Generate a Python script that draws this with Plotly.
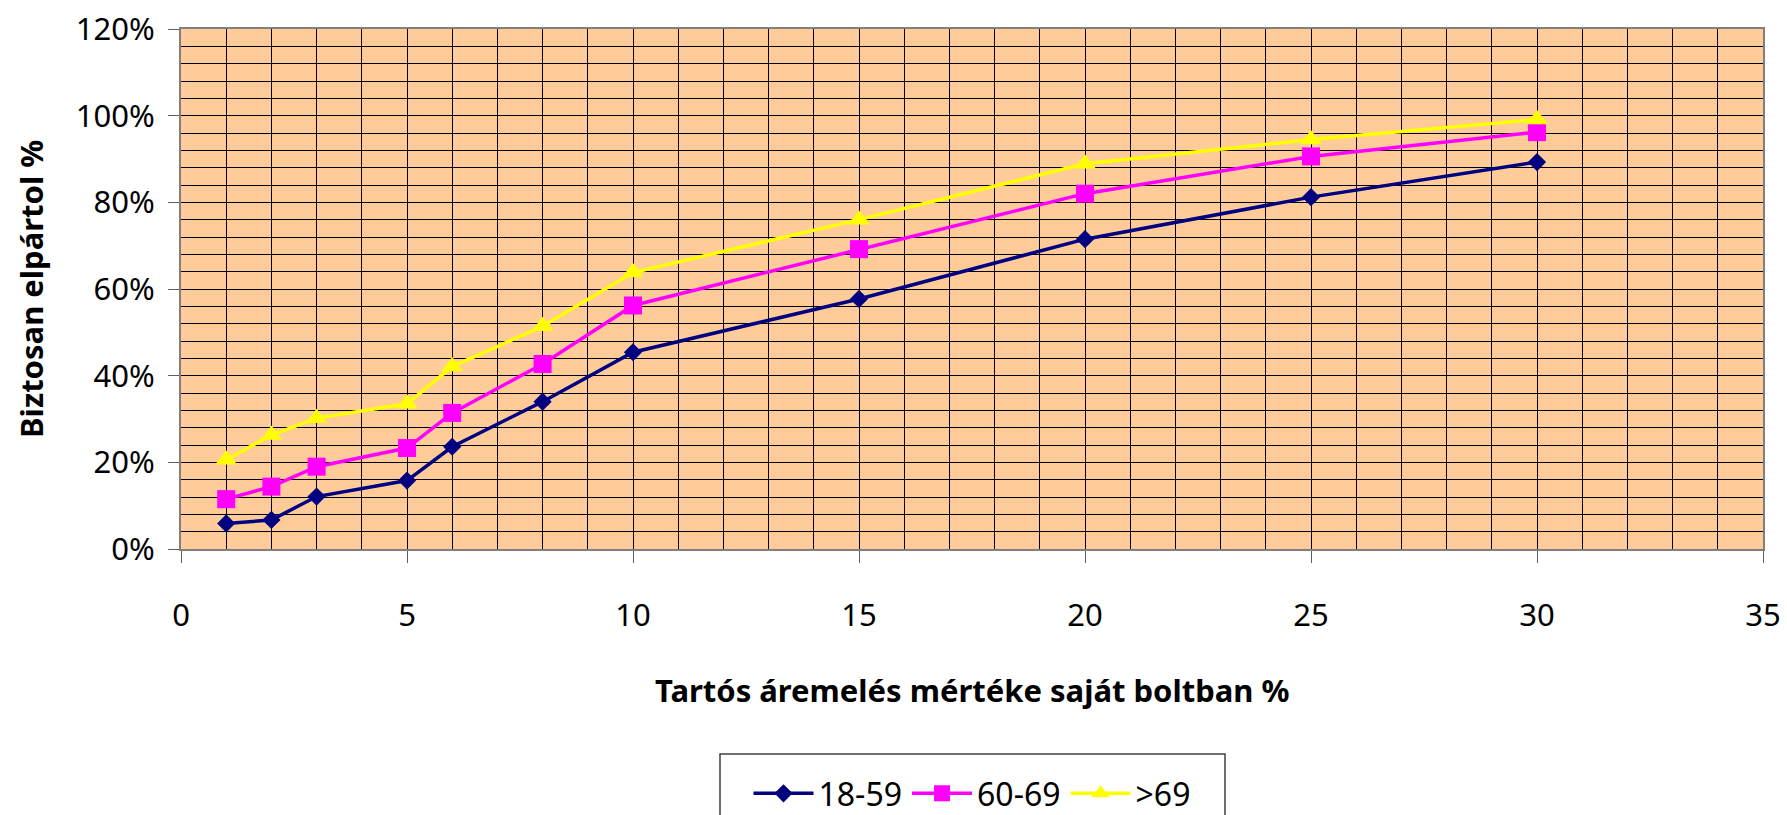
import plotly.graph_objects as go

# Price increase in own shop (%) and share who would surely leave, by age group
price_rise = [1, 2, 3, 5, 6, 8, 10, 15, 20, 25, 30]
age_18_59 = [0.059, 0.067, 0.121, 0.158, 0.236, 0.340, 0.454, 0.577, 0.715, 0.812, 0.893]
age_60_69 = [0.115, 0.144, 0.190, 0.233, 0.314, 0.427, 0.562, 0.692, 0.820, 0.906, 0.962]
age_70_plus = [0.206, 0.263, 0.302, 0.335, 0.421, 0.514, 0.638, 0.760, 0.889, 0.945, 0.991]
series_names = ["18-59", "60-69", ">69"]

FONT = "Comic Sans MS, Noto Sans, sans-serif"
W, H = 1787, 815
L, R, T, B = 181, 24, 29, 266

fig = go.Figure()
styles = [
    ("#000080", "diamond", 14),
    ("#FF00FF", "square", 18),
    ("#FFFF00", "triangle-up", 19),
]
for name, ys, (col, sym, sz) in zip(series_names, [age_18_59, age_60_69, age_70_plus], styles):
    fig.add_trace(go.Scatter(
        x=price_rise, y=ys, name=name, mode="lines+markers",
        line=dict(color=col, width=3.5),
        marker=dict(symbol=sym, size=sz, color=col, line=dict(width=0)),
    ))

plot_w = W - L - R
plot_h = H - T - B

def px_x(px):
    return (px - L) / plot_w

def px_y(py):
    return (H - B - py) / plot_h

fig.update_layout(
    width=W, height=H,
    margin=dict(l=L, r=R, t=T, b=B, autoexpand=False),
    paper_bgcolor="white",
    plot_bgcolor="#FFCC99",
    font=dict(family=FONT, color="black", size=31),
    showlegend=True,
    legend=dict(
        orientation="h", x=0.5, xanchor="center", y=px_y(766), yanchor="top",
        font=dict(size=32, family=FONT), bgcolor="rgba(0,0,0,0)", borderwidth=0,
        itemwidth=60, traceorder="normal",
    ),
    xaxis=dict(
        range=[0, 35], dtick=5, tick0=0,
        showgrid=True, gridcolor="black", gridwidth=1,
        minor=dict(dtick=1, showgrid=True, gridcolor="black", gridwidth=1),
        showline=True, linecolor="#808080", linewidth=2, mirror=True,
        ticks="outside", ticklen=12, tickcolor="#606060", tickwidth=1,
        ticklabelstandoff=26,
        tickfont=dict(size=31, family=FONT),
        zeroline=False,
    ),
    yaxis=dict(
        range=[0, 1.2], dtick=0.2, tick0=0, tickformat=".0%",
        showgrid=True, gridcolor="black", gridwidth=1,
        minor=dict(dtick=0.04, showgrid=True, gridcolor="black", gridwidth=1),
        showline=True, linecolor="#808080", linewidth=2, mirror=True,
        ticks="outside", ticklen=11, tickcolor="#606060", tickwidth=1,
        ticklabelstandoff=7,
        tickfont=dict(size=31, family=FONT),
        zeroline=False,
    ),
    annotations=[
        dict(text="<b>Tartós áremelés mértéke saját boltban %</b>",
             xref="paper", yref="paper", x=0.5, y=px_y(690),
             xanchor="center", yanchor="middle", showarrow=False,
             font=dict(size=31, family=FONT)),
        dict(text="<b>Biztosan elpártol %</b>",
             xref="paper", yref="paper", x=px_x(31), y=0.5, textangle=-90,
             xanchor="center", yanchor="middle", showarrow=False,
             font=dict(size=31, family=FONT)),
    ],
    shapes=[
        dict(type="rect", xref="paper", yref="paper",
             x0=px_x(720), x1=px_x(1225), y0=px_y(840), y1=px_y(754),
             line=dict(color="#404040", width=1.5), fillcolor="rgba(0,0,0,0)"),
    ],
)

fig.write_html("out.html")
